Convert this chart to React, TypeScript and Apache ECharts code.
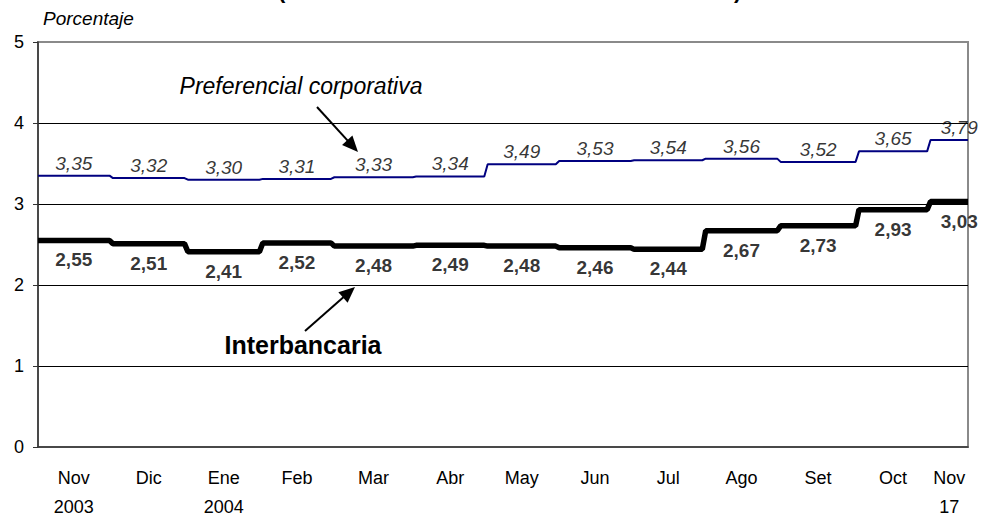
import React, { useEffect, useRef } from "react";
import * as echarts from "echarts";

const months = ["Nov", "Dic", "Ene", "Feb", "Mar", "Abr", "May", "Jun", "Jul", "Ago", "Set", "Oct", "Nov"];
const yearLine = ["2003", "", "2004", "", "", "", "", "", "", "", "", "", "17"];
// number of (business) days shown per month on the x axis
const monthDays = [22, 22, 22, 21, 24, 21, 21, 22, 21, 22, 23, 21, 12];
const corporativa = [3.35, 3.32, 3.30, 3.31, 3.33, 3.34, 3.49, 3.53, 3.54, 3.56, 3.52, 3.65, 3.79];
const interbancaria = [2.55, 2.51, 2.41, 2.52, 2.48, 2.49, 2.48, 2.46, 2.44, 2.67, 2.73, 2.93, 3.03];
const yTicks = [0, 1, 2, 3, 4, 5];

const FONT = 'Arial, "Liberation Sans", sans-serif';

function arrow(x1: number, y1: number, x2: number, y2: number, width: number) {
  const dx = x2 - x1, dy = y2 - y1;
  const len = Math.sqrt(dx * dx + dy * dy);
  const ux = dx / len, uy = dy / len;
  const hl = 16, hw = 7;
  const bx = x2 - ux * hl, by = y2 - uy * hl;
  const px = -uy, py = ux;
  return [
    { type: "line", shape: { x1, y1, x2: bx + ux * 2, y2: by + uy * 2 }, style: { stroke: "#000", lineWidth: width }, silent: true },
    {
      type: "polygon",
      shape: { points: [[x2, y2], [bx + px * hw, by + py * hw], [bx - px * hw, by - py * hw]] },
      style: { fill: "#000" },
      silent: true,
    },
  ];
}

export default function App() {
  const ref = useRef<HTMLDivElement>(null);
  useEffect(() => {
    if (!ref.current) return;
    const chart = echarts.init(ref.current, null, { renderer: "svg" });

    const starts: number[] = [];
    let acc = 0;
    monthDays.forEach((d) => { starts.push(acc); acc += d; });
    const xMax = acc - 1;
    const mids = monthDays.map((d, i) => starts[i] + (d - 1) / 2);
    const last = months.length - 1;

    const stepData = (vals: number[]) => {
      const out: number[][] = [];
      vals.forEach((v, i) => {
        out.push([starts[i], v]);
        out.push([starts[i] + monthDays[i] - 1, v]);
      });
      return out;
    };
    const fmt = (v: number) => v.toFixed(2).replace(".", ",");

    const option: any = {
      animation: false,
      backgroundColor: "#fff",
      grid: { left: 38, right: 17, top: 42, bottom: 66, show: true, borderColor: "#8a8a8a", borderWidth: 2, backgroundColor: "transparent" },
      xAxis: {
        type: "value",
        min: 0,
        max: xMax,
        axisLine: { show: true, lineStyle: { color: "#333", width: 1.5 } },
        axisTick: { show: false },
        splitLine: { show: false },
        axisLabel: {
          customValues: mids,
          showMinLabel: true,
          showMaxLabel: true,
          margin: 16,
          fontFamily: FONT,
          fontSize: 18,
          lineHeight: 29,
          color: "#000",
          formatter: (v: number) => {
            let idx = 0, best = Infinity;
            mids.forEach((m, i) => { if (Math.abs(m - v) < best) { best = Math.abs(m - v); idx = i; } });
            return months[idx] + "\n" + (yearLine[idx] || " ");
          },
        },
      },
      yAxis: {
        type: "value",
        min: yTicks[0],
        max: yTicks[yTicks.length - 1],
        interval: 1,
        axisLine: { show: true, lineStyle: { color: "#333", width: 1.5 } },
        axisTick: { show: true, length: 5, lineStyle: { color: "#333" } },
        axisLabel: { fontFamily: FONT, fontSize: 18, color: "#000", margin: 14 },
        splitLine: { show: true, showMinLine: false, showMaxLine: false, lineStyle: { color: "#000", width: 1 } },
      },
      series: [
        {
          type: "line",
          name: "Interbancaria",
          data: stepData(interbancaria),
          showSymbol: false,
          lineStyle: { color: "#000", width: 5.5 },
          silent: true,
          z: 3,
        },
        {
          type: "line",
          name: "Preferencial corporativa",
          data: stepData(corporativa),
          showSymbol: false,
          lineStyle: { color: "#000080", width: 2 },
          silent: true,
          z: 3,
        },
        {
          type: "scatter",
          data: corporativa.map((v, i) => (i === last ? { value: [mids[i], v], label: { offset: [10, 0] } } : [mids[i], v])),
          symbolSize: 0,
          silent: true,
          label: {
            show: true,
            position: "top",
            distance: 3,
            fontFamily: FONT,
            fontSize: 19,
            fontStyle: "italic",
            color: "#000",
            formatter: (p: any) => fmt(p.value[1]),
          },
        },
        {
          type: "scatter",
          data: interbancaria.map((v, i) => (i === last ? { value: [mids[i], v], label: { offset: [10, 0] } } : [mids[i], v])),
          symbolSize: 0,
          silent: true,
          label: {
            show: true,
            position: "bottom",
            distance: 10,
            fontFamily: FONT,
            fontSize: 19,
            fontWeight: "bold",
            color: "#000",
            formatter: (p: any) => fmt(p.value[1]),
          },
        },
      ],
      graphic: [
        { type: "text", left: 278, top: -21, style: { text: "(", font: `bold 22px ${FONT}`, fill: "#000" } },
        { type: "text", left: 734, top: -21, style: { text: ")", font: `bold 22px ${FONT}`, fill: "#000" } },
        { type: "text", x: 43, y: 18, style: { text: "Porcentaje", font: `italic 19px ${FONT}`, fill: "#000", verticalAlign: "middle" } },
        { type: "text", x: 301, y: 86, style: { text: "Preferencial corporativa", font: `italic 23px ${FONT}`, fill: "#000", align: "center", verticalAlign: "middle" } },
        { type: "text", x: 303, y: 345, style: { text: "Interbancaria", font: `bold 25px ${FONT}`, fill: "#000", align: "center", verticalAlign: "middle" } },
        ...arrow(317, 107, 358, 152, 2),
        ...arrow(305, 331, 355, 287, 2),
      ],
    };
    chart.setOption(option);
    return () => chart.dispose();
  }, []);
  return <div ref={ref} style={{ position: "fixed", left: 0, top: 0, width: 985, height: 521 }} />;
}
